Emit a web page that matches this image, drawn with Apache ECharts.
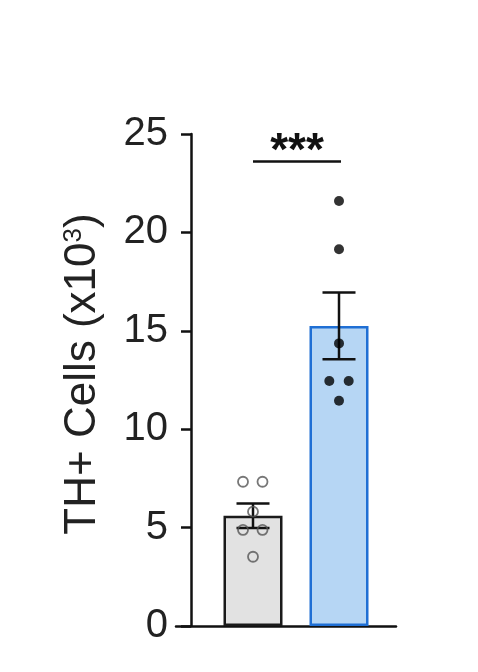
<!DOCTYPE html>
<html>
<head>
<meta charset="utf-8">
<script src="https://cdn.jsdelivr.net/npm/echarts@6/dist/echarts.min.js"></script>
<style>html,body{margin:0;padding:0;background:#fff;}#c{width:478px;height:672px;}</style>
</head>
<body>
<div id="c"></div>
<script>
const categories = ['Control', 'Treated'];
const means = [5.6, 15.25];
const sems = [0.62, 1.7];
const controlPoints = [7.33, 7.33, 5.81, 4.88, 4.88, 3.52];
const treatedPoints = [21.6, 19.14, 14.36, 12.45, 12.45, 11.45];
const yMin = 0, yMax = 25, yStep = 5;
const sigText = '***';
const sigLevel = 23.6;

// horizontal jitter of dots in pixels (layout only)
const controlJitter = [-10, 9.5, 0, -10, 9.5, 0];
const treatedJitter = [0, 0, 0, -9.7, 9.7, 0];

const FONT = 'Liberation Sans, Arial, Helvetica, sans-serif';
const chart = echarts.init(document.getElementById('c'));

const pointData = (vals, idx, jit) => vals.map((v, i) => ({ value: [idx, v], symbolOffset: [jit[i], 0] }));

chart.setOption({
  backgroundColor: '#fff',
  animation: false,
  grid: [
    { left: 210, width: 172, top: 134, height: 492 },
    { left: 176, width: 220, top: 134, height: 492 }
  ],
  xAxis: [
    { type: 'category', gridIndex: 0, data: categories, axisLine: { show: false }, axisTick: { show: false }, axisLabel: { show: false } },
    { type: 'category', gridIndex: 1, data: [''], axisLine: { show: true, lineStyle: { color: '#111', width: 2.5 } }, axisTick: { show: false }, axisLabel: { show: false } }
  ],
  yAxis: [
    {
      type: 'value', gridIndex: 0, min: yMin, max: yMax, interval: yStep, offset: 19,
      splitLine: { show: false },
      axisLine: { show: true, lineStyle: { color: '#111', width: 2.5 } },
      axisTick: { show: true, length: 10, lineStyle: { color: '#111', width: 2.5 } },
      axisLabel: { color: '#222', fontSize: 40, fontFamily: FONT, margin: 23 },
      name: 'TH+ Cells (x10{sup|3})',
      nameLocation: 'middle', nameGap: 86,
      nameTextStyle: {
        color: '#222', fontSize: 44, fontFamily: FONT, padding: [0, 0, 0, 12],
        rich: { sup: { fontSize: 26, fontFamily: FONT, color: '#222', verticalAlign: 'top', padding: [0, 0, 14, 0] } }
      }
    },
    { type: 'value', gridIndex: 1, min: yMin, max: yMax, show: false }
  ],
  series: [
    {
      type: 'bar', xAxisIndex: 0, yAxisIndex: 0, barWidth: 59,
      data: means.map((m, i) => ({
        value: m,
        itemStyle: i === 0
          ? { color: '#e2e2e2', borderColor: '#1a1a1a', borderWidth: 2.5 }
          : { color: '#b6d6f4', borderColor: '#1f6fd4', borderWidth: 2.5 }
      })),
      z: 1
    },
    {
      type: 'custom', xAxisIndex: 0, yAxisIndex: 0, z: 3,
      data: means.map((m, i) => [i, m, sems[i]]),
      renderItem: function (params, api) {
        const i = api.value(0), m = api.value(1), s = api.value(2);
        const top = api.coord([i, m + s]);
        const bot = api.coord([i, m - s]);
        const hw = 16.5;
        const st = { stroke: '#111', lineWidth: 2.5 };
        return {
          type: 'group',
          children: [
            { type: 'line', shape: { x1: top[0], y1: top[1], x2: bot[0], y2: bot[1] }, style: st },
            { type: 'line', shape: { x1: top[0] - hw, y1: top[1], x2: top[0] + hw, y2: top[1] }, style: st },
            { type: 'line', shape: { x1: bot[0] - hw, y1: bot[1], x2: bot[0] + hw, y2: bot[1] }, style: st }
          ]
        };
      }
    },
    {
      type: 'scatter', xAxisIndex: 0, yAxisIndex: 0, z: 4,
      symbol: 'circle', symbolSize: 10,
      itemStyle: { color: 'rgba(255,255,255,0)', borderColor: '#555', borderWidth: 1.8 },
      data: pointData(controlPoints, 0, controlJitter)
    },
    {
      type: 'scatter', xAxisIndex: 0, yAxisIndex: 0, z: 4,
      symbol: 'circle', symbolSize: 10,
      itemStyle: { color: '#000' },
      data: pointData(treatedPoints, 1, treatedJitter)
    },
    {
      type: 'custom', xAxisIndex: 0, yAxisIndex: 0, z: 5,
      data: [[0, 1, sigLevel]],
      renderItem: function (params, api) {
        const y = api.value(2);
        const p1 = api.coord([api.value(0), y]);
        const p2 = api.coord([api.value(1), y]);
        return {
          type: 'group',
          children: [
            { type: 'line', shape: { x1: p1[0], y1: p1[1], x2: p2[0] + 2, y2: p2[1] }, style: { stroke: '#111', lineWidth: 2.5 } },
            { type: 'text', style: { text: sigText, x: (p1[0] + p2[0]) / 2 + 1, y: p1[1] - 9, align: 'center', verticalAlign: 'middle', fontSize: 46, fontWeight: 'bold', fontFamily: FONT, fill: '#111' } }
          ]
        };
      }
    }
  ]
});
</script>
</body>
</html>
